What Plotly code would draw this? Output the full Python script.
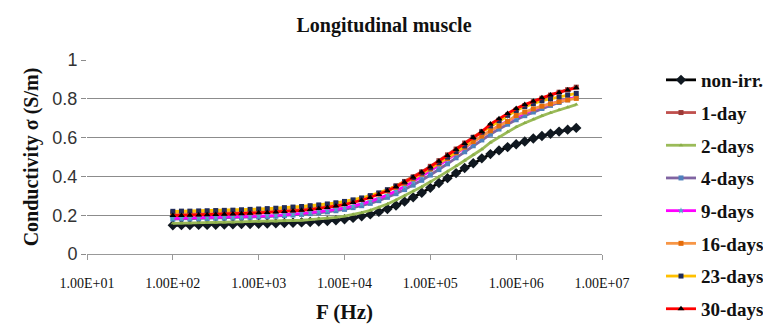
import plotly.graph_objects as go

freq_hz = [100, 126, 158, 200, 251, 316, 398, 501, 631, 794,
           1000, 1259, 1585, 1995, 2512, 3162, 3981, 5012, 6310, 7943,
           10000, 12589, 15849, 19953, 25119, 31623, 39811, 50119, 63096, 79433,
           100000, 125893, 158489, 199526, 251189, 316228, 398107, 501187, 630957, 794328,
           1000000, 1258925, 1584893, 1995262, 2511886, 3162278, 3981072, 5011872]

non_irr = [.148, .149, .149, .150, .150, .151, .152, .153, .154, .155,
           .156, .157, .158, .160, .161, .163, .165, .167, .170, .174,
           .179, .186, .194, .204, .217, .232, .250, .270, .292, .316,
           .341, .366, .391, .417, .443, .468, .493, .515, .534, .551,
           .566, .580, .595, .608, .620, .631, .641, .650]

day1 = [.206, .207, .207, .208, .209, .210, .211, .212, .214, .216,
        .218, .220, .222, .225, .228, .231, .235, .240, .246, .253,
        .261, .271, .282, .296, .312, .330, .351, .374, .398, .424,
        .452, .481, .511, .541, .572, .602, .632, .662, .690, .716,
        .742, .765, .785, .803, .819, .834, .847, .860]

days2 = [.158, .159, .159, .160, .160, .161, .162, .163, .164, .165,
         .166, .167, .168, .170, .172, .174, .177, .180, .184, .189,
         .195, .203, .213, .225, .240, .258, .278, .300, .323, .347,
         .372, .398, .425, .453, .482, .511, .540, .575, .603, .630,
         .655, .675, .695, .712, .728, .743, .757, .770]

days4 = [.180, .181, .181, .182, .183, .184, .185, .186, .187, .189,
         .191, .193, .195, .198, .201, .204, .208, .212, .217, .223,
         .230, .239, .249, .261, .275, .292, .311, .332, .355, .380,
         .407, .435, .465, .496, .527, .558, .588, .617, .644, .669,
         .692, .713, .732, .750, .766, .781, .795, .808]

days9 = [.184, .185, .185, .186, .187, .188, .189, .190, .191, .193,
         .195, .197, .199, .202, .205, .209, .213, .218, .223, .230,
         .238, .247, .258, .271, .286, .304, .325, .348, .373, .400,
         .428, .457, .487, .518, .549, .579, .608, .636, .662, .686,
         .707, .727, .745, .761, .775, .788, .799, .808]

days16 = [.214, .215, .215, .216, .217, .218, .219, .220, .222, .224,
          .226, .228, .230, .233, .236, .239, .243, .247, .252, .258,
          .265, .273, .283, .295, .309, .325, .344, .365, .388, .412,
          .438, .465, .493, .522, .551, .580, .608, .635, .660, .683,
          .714, .732, .748, .762, .774, .785, .794, .802]

days23 = [.220, .221, .221, .222, .223, .224, .225, .226, .228, .230,
          .232, .234, .236, .239, .242, .245, .249, .253, .258, .264,
          .271, .279, .289, .301, .315, .331, .350, .371, .394, .418,
          .444, .471, .499, .528, .557, .600, .628, .660, .687, .715,
          .740, .760, .775, .790, .800, .810, .820, .828]

days30 = [.198, .199, .200, .201, .202, .203, .205, .206, .208, .210,
          .212, .214, .216, .219, .222, .225, .229, .234, .240, .247,
          .255, .265, .277, .291, .307, .326, .347, .370, .395, .421,
          .449, .478, .508, .539, .570, .600, .630, .670, .697, .724,
          .750, .770, .788, .805, .820, .833, .845, .857]

series_names = ["non-irr.", "1-day", "2-days", "4-days", "9-days", "16-days", "23-days", "30-days"]
series_values = [non_irr, day1, days2, days4, days9, days16, days23, days30]
line_colors = ["#000000", "#C0504D", "#9BBB59", "#8064A2", "#FF00FF", "#F79646", "#FFC000", "#FF0000"]
marker_colors = ["#101820", "#9C3A37", "#8AAE48", "#4F81BD", "#4BACC6", "#E46C0A", "#1F2B5A", "#000000"]
marker_symbols = ["diamond", "square", "triangle-up", "square", "star", "square", "square", "triangle-up"]
marker_sizes = [8, 5, 4, 5, 5, 5, 5, 6]

x_tickvals = [1e1, 1e2, 1e3, 1e4, 1e5, 1e6, 1e7]
x_ticktext = ["1.00E+01", "1.00E+02", "1.00E+03", "1.00E+04", "1.00E+05", "1.00E+06", "1.00E+07"]
y_tickvals = [0, 0.2, 0.4, 0.6, 0.8, 1]

serif = "Liberation Serif"

fig = go.Figure()
for i, name in enumerate(series_names):
    fig.add_trace(go.Scatter(
        x=freq_hz, y=series_values[i], name=name, mode="lines+markers",
        legendgroup=name,
        line=dict(color=line_colors[i], width=2.8),
        marker=dict(symbol=marker_symbols[i], size=marker_sizes[i], color=marker_colors[i],
                    line=dict(width=0)),
    ))

fig.update_layout(
    width=763, height=324,
    margin=dict(l=87, r=161, t=60, b=70, autoexpand=False),
    paper_bgcolor="white", plot_bgcolor="white",
    title=dict(text="Longitudinal muscle", x=384 / 763, xref="container", xanchor="center",
               y=1 - 25 / 324, yref="container", yanchor="middle",
               font=dict(family=serif, size=20, color="#111", weight="bold")),
    legend=dict(x=(661 - 87) / 515, xref="paper", xanchor="left",
                y=1 - 61 / 324, yref="container", yanchor="top",
                font=dict(family=serif, size=19, color="#111", weight="bold"),
                tracegroupgap=5, bgcolor="rgba(0,0,0,0)", itemwidth=30,
                borderwidth=0, maxheight=400),
    xaxis=dict(type="log", range=[1, 7], tickvals=x_tickvals, ticktext=x_ticktext,
               showgrid=False, showline=True, linecolor="#999", linewidth=1,
               ticks="outside", ticklen=5, tickcolor="#999", ticklabelstandoff=11,
               tickfont=dict(family=serif, size=14, color="#111"), automargin=True,
               title=dict(text="F (Hz)", font=dict(family=serif, size=21, color="#111", weight="bold"),
                          standoff=30),
               zeroline=False),
    yaxis=dict(range=[0, 1], tickvals=y_tickvals, showgrid=True, gridcolor="#8c8c8c", gridwidth=1,
               showline=False, ticks="outside", ticklen=5, tickcolor="#8c8c8c",
               ticksuffix=" ",
               tickfont=dict(family="Liberation Sans", size=18, color="#333"),
               title=dict(text="Conductivity σ (S/m)",
                          font=dict(family=serif, size=20, color="#111", weight="bold"), standoff=8),
               zeroline=False),
)

fig.write_html("out.html")
